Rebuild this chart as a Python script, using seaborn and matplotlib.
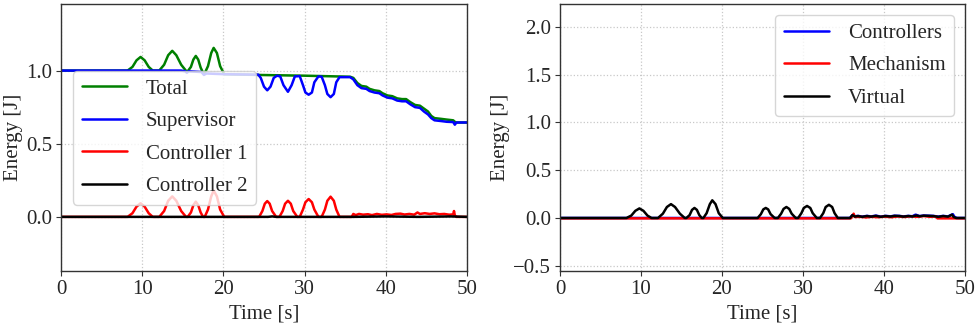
import matplotlib
matplotlib.use("Agg")
import matplotlib.pyplot as plt
import seaborn as sns

# ---- data (time [s], energy [J]) ----
total_pts = [(0, 1.0), (8.2, 1.0), (8.8, 1.025), (9.3, 1.07), (9.8, 1.093), (10.3, 1.07),
             (10.8, 1.025), (11.3, 1.0), (12.1, 1.0), (12.7, 1.04), (13.2, 1.105), (13.7, 1.135),
             (14.2, 1.105), (14.8, 1.04), (15.4, 0.998), (15.6, 0.995), (16.0, 1.025), (16.3, 1.075),
             (16.6, 1.1), (16.9, 1.075), (17.2, 1.02), (17.5, 0.985), (17.7, 0.982), (18.1, 1.03),
             (18.5, 1.12), (18.8, 1.155), (19.2, 1.12), (19.6, 1.03), (20.1, 0.975), (24.3, 0.97),
             (30.0, 0.965), (35.6, 0.958), (36.0, 0.95), (36.5, 0.915), (37.0, 0.895), (37.6, 0.89),
             (38.0, 0.875), (38.6, 0.865), (39.2, 0.86), (39.6, 0.845), (40.2, 0.83), (40.8, 0.825),
             (41.4, 0.81), (42.0, 0.805), (42.5, 0.805), (43.0, 0.785), (43.6, 0.765), (44.2, 0.76),
             (44.7, 0.74), (45.2, 0.72), (45.6, 0.69), (46.0, 0.675), (46.8, 0.67), (47.5, 0.665),
             (48.3, 0.66), (48.5, 0.65), (48.7, 0.645), (50.0, 0.645)]

supervisor_pts = [(0, 1.0), (14.8, 1.0), (15.3, 0.995), (15.5, 0.985), (15.7, 0.995), (17.3, 0.99),
                  (17.6, 0.97), (17.9, 0.98), (20.1, 0.975), (24.3, 0.972), (24.6, 0.95), (25.0, 0.89),
                  (25.4, 0.865), (25.8, 0.89), (26.2, 0.95), (26.6, 0.965), (27.0, 0.96), (27.4, 0.9),
                  (27.95, 0.855), (28.4, 0.9), (28.8, 0.96), (29.4, 0.962), (29.8, 0.9), (30.1, 0.85),
                  (30.5, 0.835), (30.9, 0.85), (31.2, 0.92), (31.7, 0.96), (32.1, 0.958), (32.5, 0.9),
                  (32.8, 0.84), (33.2, 0.818), (33.6, 0.84), (33.9, 0.92), (34.3, 0.955), (35.6, 0.955),
                  (36.0, 0.94), (36.5, 0.9), (37.0, 0.88), (37.6, 0.875), (38.0, 0.86), (38.6, 0.85),
                  (39.2, 0.845), (39.6, 0.83), (40.2, 0.815), (40.8, 0.81), (41.4, 0.795), (42.0, 0.79),
                  (42.5, 0.79), (43.0, 0.77), (43.6, 0.75), (44.2, 0.745), (44.7, 0.72), (45.2, 0.70),
                  (45.6, 0.675), (46.0, 0.66), (46.8, 0.655), (47.5, 0.65), (48.3, 0.648), (48.5, 0.63),
                  (48.7, 0.645), (50.0, 0.645)]

ctrl1_pts = [(0, 0), (8.2, 0), (8.8, 0.025), (9.3, 0.07), (9.8, 0.093), (10.3, 0.07), (10.8, 0.025),
             (11.3, 0), (12.1, 0), (12.7, 0.04), (13.2, 0.11), (13.7, 0.14), (14.2, 0.11), (14.8, 0.04),
             (15.4, 0), (15.6, 0), (16.0, 0.03), (16.3, 0.08), (16.6, 0.104), (16.9, 0.08), (17.2, 0.03),
             (17.5, 0), (17.7, 0), (18.1, 0.05), (18.5, 0.14), (18.8, 0.18), (19.2, 0.14), (19.6, 0.05),
             (20.1, 0), (24.4, 0), (24.8, 0.04), (25.1, 0.09), (25.4, 0.108), (25.7, 0.09), (26.0, 0.04),
             (26.5, 0), (26.9, 0), (27.3, 0.04), (27.6, 0.09), (27.95, 0.11), (28.3, 0.09), (28.6, 0.04),
             (29.1, 0), (29.4, 0), (29.8, 0.05), (30.1, 0.10), (30.5, 0.122), (30.9, 0.10), (31.2, 0.05),
             (31.7, 0), (32.1, 0), (32.5, 0.05), (32.8, 0.11), (33.2, 0.138), (33.6, 0.11), (33.9, 0.05),
             (34.3, 0), (35.8, 0), (36.0, 0.02), (36.3, 0.012), (36.7, 0.02), (37.2, 0.015), (37.8, 0.018),
             (38.3, 0.012), (38.9, 0.02), (39.5, 0.014), (40.1, 0.017), (40.7, 0.013), (41.2, 0.02),
             (41.8, 0.022), (42.3, 0.016), (42.9, 0.02), (43.5, 0.015), (43.9, 0.03), (44.2, 0.02),
             (44.8, 0.025), (45.4, 0.02), (46.0, 0.024), (46.6, 0.018), (47.2, 0.02), (47.8, 0.015),
             (48.3, 0.017), (48.4, 0.04), (48.5, 0.01), (48.7, 0), (50.0, 0)]

ctrl2_pts = [(0, 0), (25.5, 0), (26.0, 0.003), (26.5, 0), (36.0, 0), (40.0, 0.003), (44.0, 0),
             (48.0, 0.003), (50.0, 0)]

virtual_pts = [(0, 0), (8.2, 0), (8.8, 0.025), (9.3, 0.075), (9.8, 0.10), (10.3, 0.075), (10.8, 0.025),
               (11.3, 0), (12.1, 0), (12.7, 0.045), (13.2, 0.115), (13.7, 0.145), (14.2, 0.115),
               (14.8, 0.045), (15.4, 0), (15.6, 0), (16.0, 0.03), (16.3, 0.085), (16.6, 0.105),
               (16.9, 0.085), (17.2, 0.03), (17.5, 0), (17.7, 0), (18.1, 0.05), (18.5, 0.145),
               (18.8, 0.185), (19.2, 0.145), (19.6, 0.05), (20.1, 0), (24.4, 0), (24.8, 0.04),
               (25.1, 0.09), (25.4, 0.105), (25.7, 0.09), (26.0, 0.04), (26.5, 0), (26.9, 0),
               (27.3, 0.045), (27.6, 0.095), (27.95, 0.115), (28.3, 0.095), (28.6, 0.045), (29.1, 0),
               (29.4, 0), (29.8, 0.05), (30.1, 0.105), (30.5, 0.126), (30.9, 0.105), (31.2, 0.05),
               (31.7, 0), (32.1, 0), (32.5, 0.05), (32.8, 0.115), (33.2, 0.138), (33.6, 0.115),
               (33.9, 0.05), (34.3, 0), (35.8, 0), (36.1, 0.03), (36.4, 0.015), (36.8, 0.02),
               (37.3, 0.012), (37.9, 0.02), (38.4, 0.014), (39.0, 0.022), (39.6, 0.012), (40.2, 0.02),
               (40.8, 0.015), (41.3, 0.022), (41.9, 0.02), (42.4, 0.014), (43.0, 0.02), (43.5, 0.016),
               (44.0, 0.026), (44.4, 0.018), (44.9, 0.024), (45.5, 0.022), (46.1, 0.02), (46.7, 0.012),
               (47.3, 0.02), (47.9, 0.014), (48.4, 0.035), (48.6, 0.01), (48.9, 0), (50.0, 0)]

controllers_pts = [(0, 0), (35.8, 0), (36.1, 0.03), (36.4, 0.018), (36.8, 0.022), (37.3, 0.014),
                   (37.9, 0.022), (38.4, 0.016), (39.0, 0.025), (39.6, 0.014), (40.2, 0.022),
                   (40.8, 0.017), (41.3, 0.024), (41.9, 0.022), (42.4, 0.016), (43.0, 0.022),
                   (43.5, 0.018), (43.9, 0.035), (44.4, 0.02), (44.9, 0.026), (45.5, 0.024),
                   (46.1, 0.022), (46.7, 0.014), (47.3, 0.022), (47.9, 0.016), (48.5, 0.04),
                   (48.7, 0.012), (49.0, 0), (50.0, 0)]

mechanism_pts = [(0, -0.004), (35.9, -0.004), (36.1, 0.02), (36.25, 0.045), (36.4, 0.01), (37.0, 0.012),
                 (37.8, 0.006), (38.5, 0.012), (39.3, 0.008), (40.1, 0.014), (40.9, 0.008),
                 (41.7, 0.016), (42.5, 0.01), (43.3, 0.018), (44.1, 0.012), (44.9, 0.02),
                 (45.7, 0.012), (46.4, 0.016), (46.6, -0.004), (50.0, -0.004)]

left_series = [("Total", total_pts, "green"), ("Supervisor", supervisor_pts, "blue"),
               ("Controller 1", ctrl1_pts, "red"), ("Controller 2", ctrl2_pts, "black")]
right_series = [("Controllers", controllers_pts, "blue"), ("Mechanism", mechanism_pts, "red"),
                ("Virtual", virtual_pts, "black")]

sns.set_style("ticks")
plt.rcParams["font.family"] = ["Liberation Serif", "DejaVu Serif"]
plt.rcParams["font.size"] = 15

fig = plt.figure(figsize=(9.77, 3.29), dpi=100)
ax1 = fig.add_axes([61 / 977, 58 / 329, 406 / 977, 267 / 329])
ax2 = fig.add_axes([560 / 977, 58 / 329, 405 / 977, 267 / 329])


def draw(ax, series):
    for name, pts, col in series:
        t, v = zip(*pts)
        sns.lineplot(x=list(t), y=list(v), ax=ax, color=col, label=name, lw=1.8,
                     estimator=None, sort=False)


draw(ax1, left_series)
draw(ax2, right_series)

ax1.set_ylim(-0.37, 1.455)
ax2.set_ylim(-0.555, 2.24)
ax1.set_yticks([0.0, 0.5, 1.0])
ax2.set_yticks([-0.5, 0.0, 0.5, 1.0, 1.5, 2.0])

for ax in (ax1, ax2):
    ax.set_xlim(0, 50)
    ax.set_xticks([0, 10, 20, 30, 40, 50])
    ax.set_xlabel("Time [s]", fontsize=15, labelpad=4)
    ax.set_ylabel("Energy [J]", fontsize=15, labelpad=2)
    ax.tick_params(labelsize=15, length=3.5, width=0.8, color="#333333", pad=3)
    ax.grid(True, linestyle=":", color="#c8c8c8", linewidth=0.9)
    for sp in ax.spines.values():
        sp.set_visible(True)
        sp.set_color("#333333")
        sp.set_linewidth(1.0)

ax1.legend(loc="upper left", bbox_to_anchor=(0.03, 0.75), borderaxespad=0, fontsize=15,
           handlelength=2.2, handletextpad=0.9, labelspacing=0.62, frameon=True, framealpha=0.8)
ax2.legend(loc="upper right", bbox_to_anchor=(0.973, 0.959), borderaxespad=0, fontsize=15,
           handlelength=2.2, handletextpad=0.9, labelspacing=0.62, frameon=True, framealpha=0.8)

fig.savefig("out.png", dpi=100)
